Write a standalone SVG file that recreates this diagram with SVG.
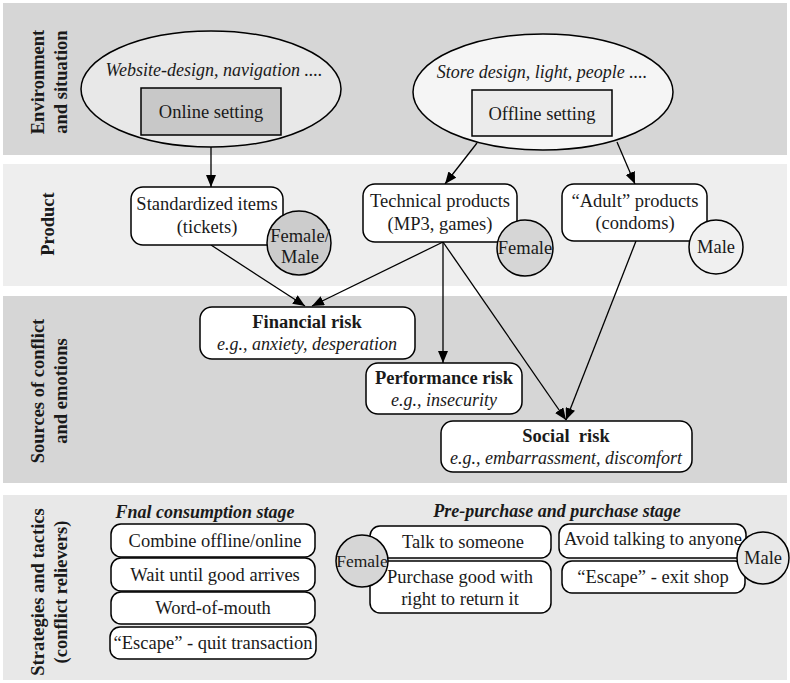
<svg xmlns="http://www.w3.org/2000/svg" width="790" height="683" viewBox="0 0 790 683">
  <defs>
    <marker id="arrow" viewBox="0 0 12 10" markerWidth="12" markerHeight="10" refX="12" refY="5" orient="auto" markerUnits="userSpaceOnUse">
      <path d="M0,0 L12,5 L0,10 z" fill="#000"/>
    </marker>
    <style>
      text { font-family: "Liberation Serif", "Times New Roman", serif; font-size: 18.5px; fill: #1a1a1a; text-anchor: middle; }
      .it { font-style: italic; font-size: 18px; }
      .b { font-weight: bold; }
      .bi { font-weight: bold; font-style: italic; font-size: 18px; }
      .band-label { font-weight: bold; font-size: 18.5px; }
      .small { font-size: 17.5px; }
      .pre { white-space: pre; }
      .box { fill: #fff; stroke: #000; stroke-width: 1.5; }
      .edge { stroke: #000; stroke-width: 1.3; fill: none; marker-end: url(#arrow); }
    </style>
  </defs>

  <rect width="790" height="683" fill="#fff"/>

  <!-- horizontal bands -->
  <g id="bands">
    <rect x="3" y="3" width="784" height="152" fill="#d6d6d6"/>
    <rect x="3" y="164" width="784" height="122" fill="#eeeeee"/>
    <rect x="3" y="296" width="784" height="187" fill="#d6d6d6"/>
    <rect x="3" y="495" width="784" height="185" fill="#e8e8e8"/>
  </g>

  <!-- band titles -->
  <g id="band-titles">
    <text class="band-label" transform="translate(44,82) rotate(-90)">Environment</text>
    <text class="band-label" transform="translate(67,82) rotate(-90)">and situation</text>
    <text class="band-label" transform="translate(54,224) rotate(-90)">Product</text>
    <text class="band-label" transform="translate(44,391) rotate(-90)">Sources of conflict</text>
    <text class="band-label" transform="translate(67,391) rotate(-90)">and emotions</text>
    <text class="band-label" transform="translate(44,592) rotate(-90)">Strategies and tactics</text>
    <text class="band-label" transform="translate(67,592) rotate(-90)">(conflict relievers)</text>
  </g>

  <!-- environment -->
  <g id="online">
    <ellipse cx="211" cy="89" rx="130" ry="58" fill="#e8e8e8" stroke="#000" stroke-width="1.5"/>
    <text class="it" x="214" y="76">Website-design, navigation ....</text>
    <rect x="141" y="88" width="140" height="47" fill="#c8c8c8" stroke="#000" stroke-width="1.5"/>
    <text x="211" y="118">Online setting</text>
  </g>
  <g id="offline">
    <ellipse cx="543" cy="92" rx="130" ry="58" fill="#f5f5f5" stroke="#000" stroke-width="1.5"/>
    <text class="it" x="542" y="78">Store design, light, people ....</text>
    <rect x="472" y="90" width="140" height="46" fill="#ebebeb" stroke="#000" stroke-width="1.5"/>
    <text x="542" y="120">Offline setting</text>
  </g>

  <!-- connectors -->
  <g id="connectors">
    <line class="edge" x1="211" y1="147" x2="211" y2="187"/>
    <line class="edge" x1="477" y1="143" x2="445" y2="184"/>
    <line class="edge" x1="617" y1="142" x2="635" y2="184"/>
    <line class="edge" x1="211" y1="245" x2="305" y2="306"/>
    <line class="edge" x1="443" y1="242" x2="312" y2="306"/>
    <line class="edge" x1="443" y1="242" x2="443" y2="363"/>
    <line class="edge" x1="443" y1="242" x2="566" y2="420"/>
    <line class="edge" x1="636" y1="241" x2="566" y2="420"/>
  </g>

  <!-- products -->
  <g id="standardized">
    <rect class="box" x="131" y="187" width="152" height="58" rx="12"/>
    <text x="207" y="210">Standardized items</text>
    <text x="207" y="233">(tickets)</text>
  </g>
  <g id="gender-both">
    <circle cx="299" cy="243" r="32" fill="#cccccc" stroke="#000" stroke-width="1.5"/>
    <text x="300" y="242">Female/</text>
    <text x="300" y="263">Male</text>
  </g>
  <g id="technical">
    <rect class="box" x="363" y="184" width="154" height="58" rx="12"/>
    <text x="440" y="207">Technical products</text>
    <text x="440" y="230">(MP3, games)</text>
  </g>
  <g id="gender-female">
    <circle cx="525" cy="248" r="28" fill="#d6d6d6" stroke="#000" stroke-width="1.5"/>
    <text x="525" y="254">Female</text>
  </g>
  <g id="adult">
    <rect class="box" x="562" y="184" width="145" height="57" rx="12"/>
    <text x="635" y="207">“Adult” products</text>
    <text x="635" y="229">(condoms)</text>
  </g>
  <g id="gender-male">
    <circle cx="716" cy="247" r="27" fill="#f0f0f0" stroke="#000" stroke-width="1.5"/>
    <text x="716" y="253">Male</text>
  </g>

  <!-- risks -->
  <g id="financial-risk">
    <rect class="box" x="200" y="307" width="215" height="52" rx="12"/>
    <text class="b" x="307" y="328">Financial risk</text>
    <text class="it" x="307" y="350">e.g., anxiety, desperation</text>
  </g>
  <g id="performance-risk">
    <rect class="box" x="366" y="363" width="156" height="51" rx="12"/>
    <text class="b" x="444" y="384">Performance risk</text>
    <text class="it" x="444" y="406">e.g., insecurity</text>
  </g>
  <g id="social-risk">
    <rect class="box" x="441" y="421" width="251" height="51" rx="12"/>
    <text class="b pre" x="566" y="442">Social  risk</text>
    <text class="it" x="566" y="464">e.g., embarrassment, discomfort</text>
  </g>

  <!-- strategies: final consumption -->
  <g id="final-stage">
    <text class="bi" x="205" y="518">Fnal consumption stage</text>
    <rect class="box" x="111" y="524" width="204" height="33" rx="10"/>
    <text x="215" y="547">Combine offline/online</text>
    <rect class="box" x="111" y="558" width="204" height="33" rx="10"/>
    <text x="215" y="581">Wait until good arrives</text>
    <rect class="box" x="111" y="592" width="204" height="32" rx="10"/>
    <text x="213" y="614">Word-of-mouth</text>
    <rect class="box" x="110" y="627" width="206" height="32" rx="10"/>
    <text x="213" y="649">“Escape” - quit transaction</text>
  </g>

  <!-- strategies: pre-purchase and purchase -->
  <g id="purchase-stage">
    <text class="bi" x="557" y="517">Pre-purchase and purchase stage</text>
  </g>
  <g id="talk">
    <rect class="box" x="370" y="526" width="181" height="32" rx="10"/>
    <text x="463" y="548">Talk to someone</text>
  </g>
  <g id="return">
    <rect class="box" x="370" y="561" width="181" height="52" rx="10"/>
    <text x="460" y="583">Purchase good with</text>
    <text x="460" y="605">right to return it</text>
  </g>
  <g id="female-tactics">
    <circle cx="362" cy="561" r="26" fill="#d6d6d6" stroke="#000" stroke-width="1.5"/>
    <text class="small" x="362" y="567">Female</text>
  </g>
  <g id="avoid">
    <rect class="box" x="559" y="524" width="187" height="34" rx="10"/>
    <text x="653" y="545">Avoid talking to anyone</text>
  </g>
  <g id="exit">
    <rect class="box" x="562" y="561" width="183" height="32" rx="10"/>
    <text x="653" y="583">“Escape” - exit shop</text>
  </g>
  <g id="male-tactics">
    <circle cx="763" cy="558" r="26" fill="#e8e8e8" stroke="#000" stroke-width="1.5"/>
    <text x="763" y="564">Male</text>
  </g>
</svg>
